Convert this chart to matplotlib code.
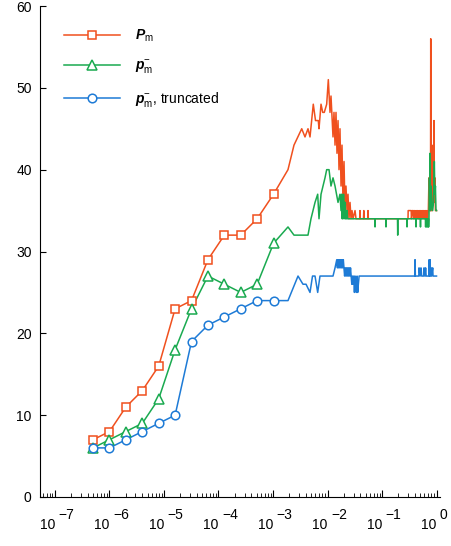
import numpy as np
import matplotlib
matplotlib.use("Agg")
import matplotlib.pyplot as plt
from matplotlib.lines import Line2D

plt.rcParams['font.family'] = ['Liberation Sans', 'DejaVu Sans']
plt.rcParams['font.size'] = 10
plt.rcParams['mathtext.fontset'] = 'custom'
plt.rcParams['mathtext.rm'] = 'Liberation Sans'
plt.rcParams['mathtext.it'] = 'Liberation Sans:italic'
plt.rcParams['mathtext.bf'] = 'Liberation Sans:bold'
plt.rcParams['mathtext.bfit'] = 'Liberation Sans:italic:bold'

RED = "#F0501E"
GREEN = "#1AAA50"
BLUE = "#1E7BD6"

# marked points (x doubles each step)
x_marked = [5e-7, 1e-6, 2e-6, 4e-6, 8e-6, 1.6e-5, 3.2e-5, 6.4e-5,
            1.28e-4, 2.56e-4, 5.12e-4, 1.024e-3]
red_marked = [7, 8, 11, 13, 16, 23, 24, 29, 32, 32, 34, 37]
green_marked = [6, 7, 8, 9, 12, 18, 23, 27, 26, 25, 26, 31]
blue_marked = [6, 6, 7, 8, 9, 10, 19, 21, 22, 23, 24, 24]

# noisy tail after 1e-3, x given as log10
red_tail_logx = [-2.725, -2.615, -2.473, -2.413, -2.358, -2.321, -2.261, -2.220,
                 -2.169, -2.156, -2.119, -2.088, -2.059, -2.015, -1.985, -1.954,
                 -1.936, -1.899, -1.881, -1.862, -1.844, -1.826, -1.807, -1.789,
                 -1.771, -1.752, -1.734, -1.716, -1.697, -1.679, -1.661, -1.642,
                 -1.624, -1.606, -1.587, -1.569, -1.550, -1.532, -1.495, -1.477,
                 -1.410, -1.404, -1.398, -1.340, -1.334, -1.328, -1.263, -1.257, -1.251,
                 -0.523, -0.520, -0.465, -0.460, -0.440,
                 -0.430, -0.416, -0.402, -0.388, -0.374, -0.360, -0.346, -0.332,
                 -0.318, -0.304, -0.290, -0.276, -0.262, -0.248, -0.234, -0.220,
                 -0.206, -0.192, -0.178, -0.164, -0.150,
                 -0.138, -0.130, -0.110, -0.106, -0.100, -0.080, -0.068, -0.064,
                 -0.058, -0.050, -0.046, -0.040, -0.028, -0.020, 0.0]
red_tail_y = [40, 43, 45, 44, 45, 44, 48, 46,
              46, 45, 48, 47, 47, 48, 51, 47,
              49, 44, 47, 43, 47, 42, 46, 40,
              45, 38, 43, 36, 41, 35, 38, 35,
              37, 34, 36, 34, 35, 34, 35, 34,
              34, 35, 34, 34, 35, 34, 34, 35, 34,
              34, 35, 35, 34, 35,
              35, 34, 35, 34, 35, 34, 35, 34,
              35, 34, 35, 34, 35, 34, 35, 34,
              35, 34, 35, 34, 35,
              39, 35, 35, 56, 35, 35, 37, 43,
              36, 39, 46, 36, 39, 35, 35]

green_tail_logx = [-2.725, -2.615, -2.358, -2.303, -2.229, -2.180, -2.156, -2.119,
                   -2.046, -2.015, -1.972, -1.936, -1.899, -1.862, -1.807, -1.771, -1.752,
                   -1.740, -1.730, -1.722, -1.714, -1.706, -1.698, -1.690, -1.682,
                   -1.674, -1.666, -1.658, -1.650, -1.642, -1.630,
                   -1.132, -1.128, -1.124, -0.931, -0.927, -0.923, -0.716, -0.712, -0.708,
                   -0.545, -0.541, -0.537, -0.380, -0.376, -0.372, -0.298, -0.294, -0.290,
                   -0.204, -0.200, -0.196, -0.184, -0.180, -0.176, -0.164, -0.160, -0.156,
                   -0.149, -0.145,
                   -0.138, -0.130, -0.124, -0.118, -0.110, -0.100, -0.085, -0.070,
                   -0.055, -0.040, -0.030, -0.020, -0.010, 0.0]
green_tail_y = [33, 32, 32, 34, 36, 37, 34, 37,
                39, 40, 40, 38, 39, 38, 36, 37, 35,
                37, 34, 36, 34, 37, 35, 36, 34,
                36, 34, 35, 34, 35, 34,
                34, 33, 34, 34, 33, 34, 34, 32, 34,
                34, 33, 34, 34, 33, 34, 34, 33, 34,
                34, 33, 34, 34, 33, 34, 34, 33, 34,
                34, 33,
                34, 39, 36, 42, 35, 38, 36, 35,
                36, 41, 37, 38, 35, 35]

blue_tail_logx = [-2.725, -2.541, -2.450, -2.394, -2.321, -2.275, -2.229, -2.180, -2.138,
                  -1.899, -1.862,
                  -1.830, -1.818, -1.806, -1.794, -1.782, -1.770, -1.758, -1.746,
                  -1.734, -1.722, -1.710,
                  -1.698, -1.686, -1.674, -1.662, -1.650, -1.638, -1.626, -1.614,
                  -1.602, -1.590, -1.578, -1.566,
                  -1.554, -1.542, -1.530, -1.518, -1.506, -1.494, -1.482, -1.470,
                  -1.458, -1.446, -1.434, -1.420,
                  -0.400, -0.394, -0.388, -0.325, -0.321, -0.300, -0.285, -0.272,
                  -0.235, -0.229, -0.212, -0.200, -0.190,
                  -0.140, -0.135, -0.128, -0.118, -0.110, -0.098, -0.090, -0.070, -0.064,
                  0.0]
blue_tail_y = [24, 27, 26, 26, 25, 27, 27, 25, 27,
               27, 28,
               29, 28, 29, 28, 29, 28, 29, 28,
               29, 28, 29,
               28, 27, 28, 27, 28, 27, 28, 27,
               28, 27, 28, 27,
               26, 27, 26, 27, 25, 27, 26, 25,
               27, 25, 26, 27,
               27, 29, 27, 27, 28, 27, 28, 27,
               27, 28, 27, 28, 27,
               27, 29, 27, 29, 27, 28, 27, 28, 27,
               27]

labels = [r'$\mathbfit{P}_\mathrm{m}$',
          r'$\mathbfit{p}^{-}_\mathrm{m}$',
          r'$\mathbfit{p}^{-}_\mathrm{m}$, truncated']

fig = plt.figure(figsize=(4.51, 5.46), dpi=100)
ax = fig.add_axes([40/451, 49/546, 400/451, 491/546])

series = [(red_marked, red_tail_logx, red_tail_y, RED, 's', 5.2),
          (green_marked, green_tail_logx, green_tail_y, GREEN, '^', 6.8),
          (blue_marked, blue_tail_logx, blue_tail_y, BLUE, 'o', 6.2)]

handles = []
for marked, tlx, ty, col, mk, ms in series:
    xs = list(x_marked) + list(10 ** np.array(tlx))
    ys = list(marked) + list(ty)
    ax.plot(xs, ys, color=col, lw=1.1, zorder=2)
    ax.plot(x_marked, marked, ls='none', marker=mk, ms=ms, mfc='white',
            mec=col, mew=1.1, zorder=3)
    handles.append(Line2D([], [], color=col, lw=1.1, marker=mk, ms=ms,
                          mfc='white', mec=col, mew=1.1))

ax.set_xscale('log')
ax.set_xlim(10 ** -7.275, 10 ** 0.064)
ax.set_ylim(0, 60)
ax.set_yticks([0, 10, 20, 30, 40, 50, 60])
ax.spines['top'].set_visible(False)
ax.spines['right'].set_visible(False)
ax.tick_params(axis='both', which='both', direction='in')
ax.tick_params(axis='y', length=4, pad=6, labelsize=10)
ax.tick_params(axis='x', which='major', length=5)
ax.tick_params(axis='x', which='minor', length=3)
ax.xaxis.set_major_locator(matplotlib.ticker.LogLocator(base=10, numticks=20))
ax.xaxis.set_minor_locator(matplotlib.ticker.LogLocator(base=10, subs=np.arange(2, 10), numticks=20))
ax.xaxis.set_minor_formatter(matplotlib.ticker.NullFormatter())
ax.set_xticklabels([])

for k in range(-7, 1):
    ax.annotate('10', xy=(10.0 ** k, 0), xycoords=('data', 'axes fraction'),
                xytext=(0, -15), textcoords='offset points', ha='right', va='top',
                fontsize=10)
    ax.annotate(str(k).replace('-', '\u2212'), xy=(10.0 ** k, 0),
                xycoords=('data', 'axes fraction'),
                xytext=(2.5, -8), textcoords='offset points', ha='left', va='top',
                fontsize=10)

ax.legend(handles, labels, loc='upper left', bbox_to_anchor=(0.06, 0.955),
          frameon=False, borderpad=0, borderaxespad=0, handlelength=4.0,
          handletextpad=1.1, labelspacing=1.0, fontsize=10)

fig.savefig("out.png", dpi=100)
